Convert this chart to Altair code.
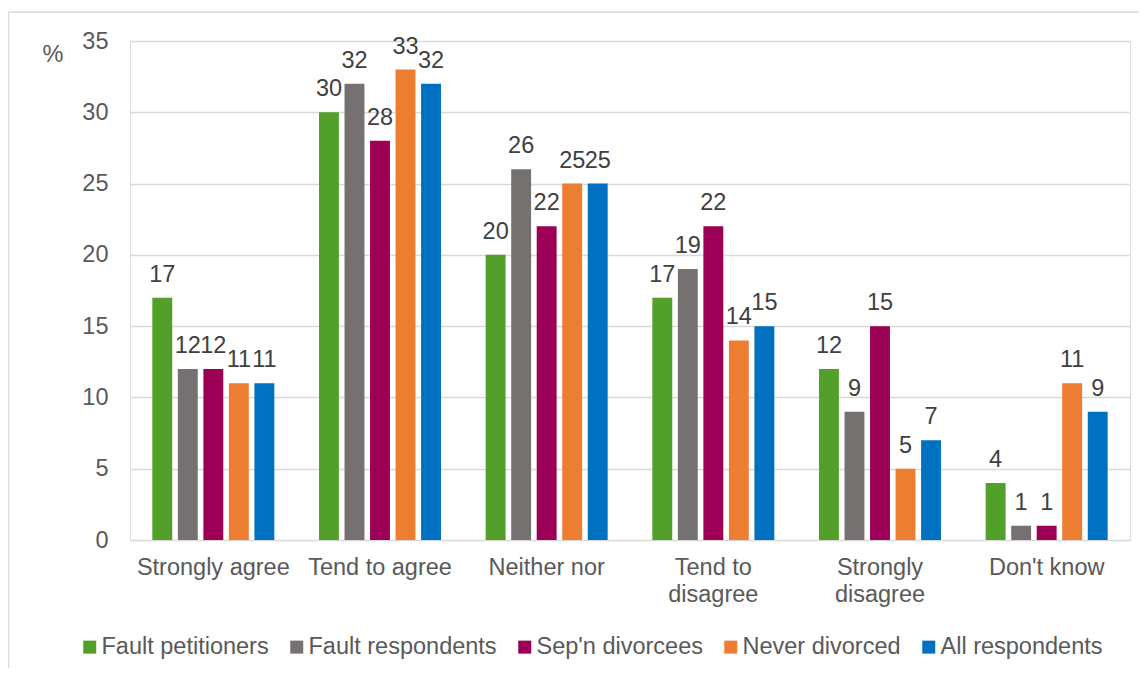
import altair as alt
import pandas as pd

categories = ["Strongly agree", "Tend to agree", "Neither nor", "Tend to disagree", "Strongly disagree", "Don't know"]
series = ["Fault petitioners", "Fault respondents", "Sep'n divorcees", "Never divorced", "All respondents"]
colors = ["#52a02a", "#767171", "#9b0056", "#ed7d31", "#0070c0"]

fault_petitioners = [17, 30, 20, 17, 12, 4]
fault_respondents = [12, 32, 26, 19, 9, 1]
sepn_divorcees = [12, 28, 22, 22, 15, 1]
never_divorced = [11, 33, 25, 14, 5, 11]
all_respondents = [11, 32, 25, 15, 7, 9]

values = [fault_petitioners, fault_respondents, sepn_divorcees, never_divorced, all_respondents]
rows = []
for s, vals in zip(series, values):
    for c, v in zip(categories, vals):
        rows.append({"category": c, "series": s, "value": v})
df = pd.DataFrame(rows)

FONT = "Liberation Sans"
FS = 23.5

label_expr = ("datum.label == 'Tend to disagree' ? ['Tend to', 'disagree'] : "
              "datum.label == 'Strongly disagree' ? ['Strongly', 'disagree'] : datum.label")

x = alt.X("category:N", sort=categories,
          scale=alt.Scale(paddingInner=0.268, paddingOuter=0.134),
          axis=alt.Axis(title=None, labelAngle=0, domain=False, ticks=False,
                        labelFont=FONT, labelFontSize=FS, labelColor="#595959",
                        labelPadding=15, labelLineHeight=27, labelExpr=label_expr,
                        labelLimit=0))
xoff = alt.XOffset("series:N", sort=series,
                   scale=alt.Scale(paddingInner=0.22, paddingOuter=0))
y = alt.Y("value:Q", scale=alt.Scale(domain=[0, 35], nice=False),
          axis=alt.Axis(values=[0, 5, 10, 15, 20, 25, 30, 35], title="%",
                        titleAngle=0, titleX=-88, titleY=20, titleFont=FONT,
                        titleFontSize=FS, titleFontWeight="normal", titleColor="#595959",
                        titleAlign="left", titleBaseline="alphabetic",
                        domain=False, ticks=False, labelFont=FONT, labelFontSize=FS,
                        labelColor="#595959", labelPadding=22,
                        gridColor="#d9d9d9", gridWidth=1.5))
color = alt.Color("series:N", sort=series,
                  scale=alt.Scale(domain=series, range=colors),
                  legend=alt.Legend(title=None, orient="none", legendX=-52, legendY=594,
                                    direction="horizontal", columns=5,
                                    symbolType="square", symbolSize=169,
                                    symbolStrokeWidth=0, labelFont=FONT,
                                    labelFontSize=FS, labelColor="#595959",
                                    labelOffset=0, columnPadding=16, padding=0,
                                    labelLimit=0))

base = alt.Chart(df)
bars = base.mark_bar().encode(x=x, xOffset=xoff, y=y, color=color)
labels = base.mark_text(font=FONT, fontSize=FS, color="#404040", dy=-16,
                        baseline="alphabetic", align="center").encode(
    x=alt.X("category:N", sort=categories), xOffset=alt.XOffset("series:N", sort=series),
    y="value:Q", text="value:Q")

frame_left = alt.Chart(pd.DataFrame({"k": [0]})).mark_rule(
    color="#d9d9d9", strokeWidth=1.5, clip=False).encode(
    x=alt.value(-121.5), y=alt.value(-28.7), y2=alt.value(650))
frame_top = alt.Chart(pd.DataFrame({"k": [0]})).mark_rule(
    color="#d9d9d9", strokeWidth=1.5, clip=False).encode(
    x=alt.value(-121.5), x2=alt.value(1010), y=alt.value(-28.7))

chart = alt.layer(bars, labels, frame_left, frame_top).properties(
    width=1000, height=499,
    autosize=alt.AutoSizeParams(type="none"),
    padding={"left": 122, "top": 33, "right": 9, "bottom": 128},
).configure_view(stroke=None).configure(background="white")

chart.save("out.html", embed_options={"renderer": "svg", "actions": False})
